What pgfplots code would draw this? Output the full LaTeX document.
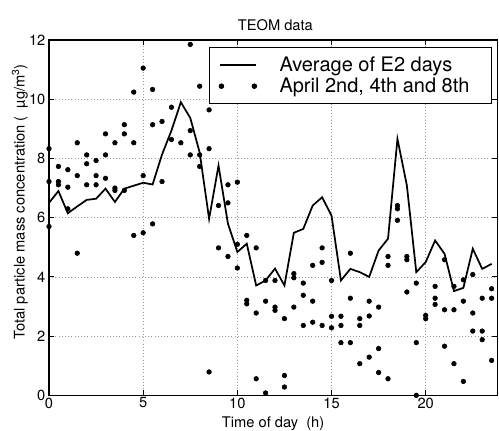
\documentclass[border=0pt]{standalone}
\usepackage{pgfplots}
\pgfplotsset{compat=1.18}
\usepackage{fontspec}
\setmainfont{TeX Gyre Heros}
\begin{document}
\begin{tikzpicture}
\path[use as bounding box] (-36.75pt,-26pt) rectangle (337.5pt,296.5pt);
\begin{axis}[
  at={(0,0)}, anchor=south west,
  scale only axis, width=336.2pt, height=266.5pt,
  xmin=0, xmax=23.8, ymin=0, ymax=12,
  xtick={0,5,10,15,20}, ytick={0,2,4,6,8,10,12},
  grid=major, grid style={dotted, gray!80, line width=0.5pt},
  axis line style={line width=0.9pt},
  tick style={black, line width=0.6pt}, major tick length=4pt,
  tick align=inside,
  /pgf/number format/assume math mode=true,
  every tick label/.append style={font=\fontsize{11}{13}\selectfont},
  xticklabel style={inner sep=0pt, yshift=-1.5pt, anchor=north},
  yticklabel style={inner sep=0pt, xshift=-2.5pt, anchor=east},
  title={TEOM data},
  title style={font=\fontsize{11}{13}\selectfont, at={(axis description cs:0.505,1)}, anchor=base, yshift=1pt},
  xlabel={Time of day\ \ (h)},
  xlabel style={font=\fontsize{11}{13}\selectfont, at={(axis description cs:0.5,-0.079)}, anchor=center},
  ylabel={Total particle mass concentration (\ \ µg/m\textsuperscript{3})},
  ylabel style={font=\fontsize{11}{13}\selectfont, at={(axis description cs:-0.065,0.545)}, anchor=center},
  clip mode=individual,
  legend style={at={(rel axis cs:0.3576,0.979)}, anchor=north west, draw=black, line width=0.6pt,
    inner xsep=6.75pt, inner ysep=5pt, font=\fontsize{15}{15}\selectfont,
    nodes={inner sep=0pt, text height=12.5pt, text depth=3pt, line width=0.6pt},
    row sep=0.5pt, /tikz/every odd column/.style={column sep=16.7pt}},
  legend cell align=left,
]
\addplot[black, line width=1.3pt, mark=none,
  legend image code/.code={\draw[black, line width=1.3pt] (0pt,0pt) -- (27.5pt,0pt);}]
  coordinates {
  (0,6.50) (0.5,6.90) (1,6.15) (1.5,6.38) (2,6.60) (2.5,6.64) (3,6.98) (3.5,6.53)
  (4,6.98) (4.5,7.08) (5,7.18) (5.5,7.12) (6,8.13) (6.5,8.94) (7,9.90) (7.5,9.37)
  (8,8.20) (8.5,5.96) (9,7.76) (9.5,5.80) (10,4.84) (10.5,5.12) (11,3.71) (11.5,3.88)
  (12,4.28) (12.5,3.71) (13,5.49) (13.5,5.62) (14,6.41) (14.5,6.69) (15,6.07) (15.5,3.88)
  (16,4.27) (16.5,4.16) (17,4.00) (17.5,4.89) (18,5.29) (18.5,8.66) (19,7.09) (19.5,4.16)
  (20,4.50) (20.5,5.23) (21,4.78) (21.5,3.52) (22,3.63) (22.5,4.95) (23,4.27) (23.5,4.44)
  };
\addlegendentry{Average of E2 days}
\addplot[only marks, mark=*, mark size=1.75pt, black,
  legend image code/.code={\fill[black] (1.3pt,0pt) circle (1.75pt); \fill[black] (26pt,0pt) circle (1.75pt);}]
  coordinates {
  (0,8.33) (0,7.22) (0,5.70)
  (0.5,7.73) (0.5,7.22) (0.5,7.11)
  (1,7.62) (1,7.03) (1,6.30)
  (1.5,8.53) (1.5,7.42) (1.5,4.80)
  (2,8.12) (2,7.82) (2,7.11)
  (2.5,7.93) (2.5,7.42) (2.5,7.11)
  (3,8.83) (3,8.12) (3,7.33)
  (3.5,8.53) (3.5,7.00) (3.5,6.92)
  (4,9.14) (4,8.83) (4,6.92)
  (4.5,10.24) (4.5,8.53) (4.5,5.40)
  (5,11.05) (5,7.42) (5,5.49)
  (5.5,10.33) (5.5,9.14) (5.5,5.79)
  (6,9.25) (6,7.22)
  (6.5,9.73) (6.5,8.64)
  (7,8.53)
  (7.5,11.85) (7.5,8.94) (7.5,8.12)
  (8,10.44) (8,8.12) (8,7.73)
  (8.5,9.64) (8.5,8.33) (8.5,0.79)
  (9,6.41) (9,4.98)
  (9.5,7.11) (9.5,6.50) (9.5,4.69)
  (10,7.20) (10,5.10) (10,4.30)
  (10.5,5.40) (10.5,3.21) (10.5,3.09)
  (11,4.98) (11,2.78) (11,0.56)
  (11.5,3.88) (11.5,3.18) (11.5,0.08)
  (12,3.88) (12,2.98) (12,2.87)
  (12.5,2.59) (12.5,0.67) (12.5,0.28)
  (13,4.11) (13,3.97) (13,2.98)
  (13.5,3.79) (13.5,3.38) (13.5,2.36)
  (14,4.39) (14,3.18) (14,2.47)
  (14.5,4.98) (14.5,4.49) (14.5,2.36)
  (15,3.88) (15,2.67) (15,2.28)
  (15.5,2.67) (15.5,2.36) (15.5,1.78)
  (16,4.80) (16,3.28) (16,1.78)
  (16.5,2.59) (16.5,2.36) (16.5,1.07)
  (17,3.18) (17,2.68) (17,1.29)
  (17.5,2.98) (17.5,1.58) (17.5,0.77)
  (18,4.69) (18,4.39) (18,0.56)
  (18.5,6.41) (18.5,6.30) (18.5,5.91)
  (19,4.69) (19,4.58) (19,3.49)
  (19.5,3.79) (19.5,1.78) (19.5,0.00)
  (20,2.70) (20,2.59)
  (20.5,3.68) (20.5,3.28) (20.5,3.07)
  (21,4.58) (21,2.89) (21,1.66)
  (21.5,3.68) (21.5,2.89) (21.5,1.07)
  (22,3.90) (22,3.18) (22,0.47)
  (22.5,4.08) (22.5,2.78) (22.5,2.17)
  (23,3.28) (23,2.17) (23,1.88)
  (23.5,3.60) (23.5,3.28) (23.5,1.18)
  };
\addlegendentry{April 2nd, 4th and 8th\hspace*{9.5pt}}
\end{axis}
\end{tikzpicture}
\end{document}
